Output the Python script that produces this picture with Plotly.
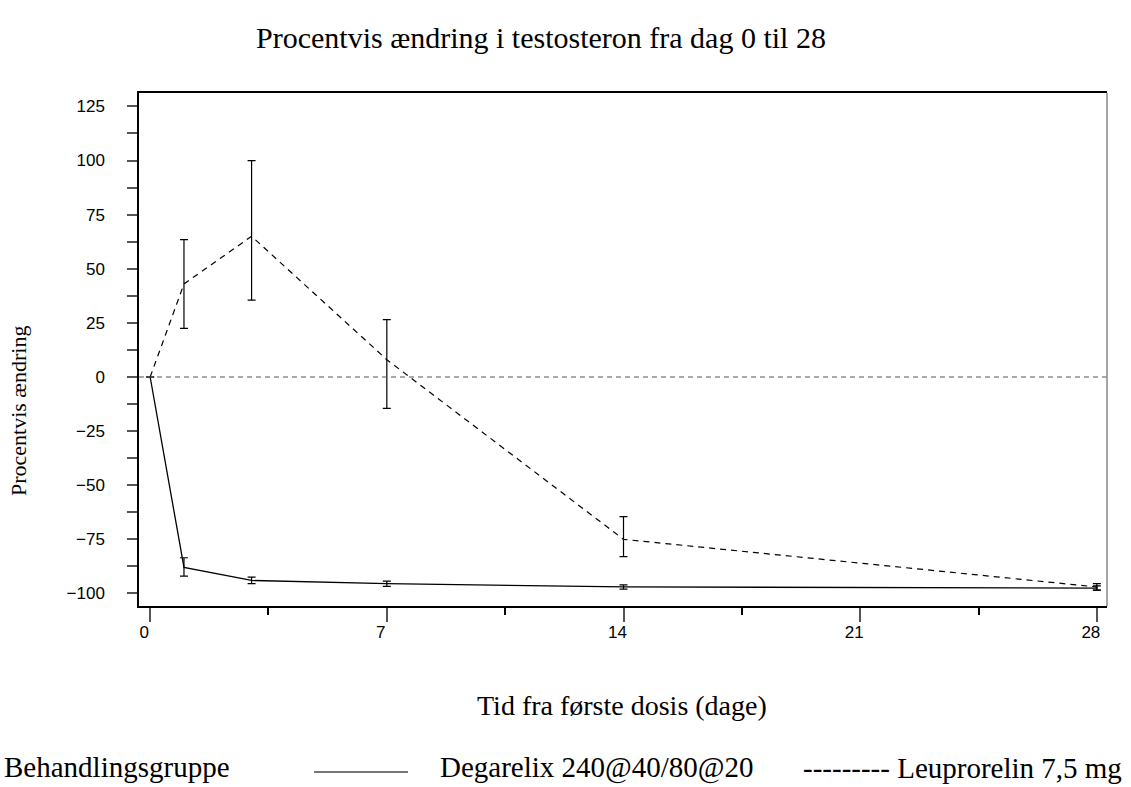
import plotly.graph_objects as go

# ---- data ----
days = [0, 1, 3, 7, 14, 28]

deg_name = "Degarelix 240@40/80@20"
deg_mean = [0, -88, -94, -95.5, -97, -97.5]
deg_upper = [0, -83.5, -92.5, -94.3, -96, -96.5]
deg_lower = [0, -92, -95.5, -96.7, -98, -98.5]

leu_name = "Leuprorelin 7,5 mg"
leu_mean = [0, 43, 65, 8, -75, -97]
leu_upper = [0, 63.5, 100, 26.5, -64.5, -95.5]
leu_lower = [0, 22.5, 35.5, -14.5, -83, -98.5]

x_ticks = [0, 7, 14, 21, 28]
y_ticks = [125, 100, 75, 50, 25, 0, -25, -50, -75, -100]

title_text = "Procentvis ændring i testosteron fra dag 0 til 28"
x_title = "Tid fra første dosis (dage)"
y_title = "Procentvis ændring"
legend_title = "Behandlingsgruppe"

SERIF = "Liberation Serif, Times New Roman, serif"
SANS = "Liberation Sans, Arial, sans-serif"


def err(mean, upper, lower):
    plus = [u - m for u, m in zip(upper, mean)]
    minus = [m - l for m, l in zip(mean, lower)]
    return plus, minus


fig = go.Figure()

dp, dm = err(deg_mean, deg_upper, deg_lower)
fig.add_trace(go.Scatter(
    x=days, y=deg_mean, mode="lines", name=deg_name,
    line=dict(color="black", width=1.3),
    error_y=dict(type="data", array=dp, arrayminus=dm, symmetric=False,
                 color="black", thickness=1.2, width=4),
))

lp, lm = err(leu_mean, leu_upper, leu_lower)
fig.add_trace(go.Scatter(
    x=days, y=leu_mean, mode="lines", name=leu_name,
    line=dict(color="black", width=1.2, dash="6px,5px"),
    error_y=dict(type="data", array=lp, arrayminus=lm, symmetric=False,
                 color="black", thickness=1.2, width=4),
))

# zero reference line
fig.add_hline(y=0, line=dict(color="#555555", width=1.2, dash="5px,4px"))

# right border (grey)
fig.add_shape(type="line", xref="paper", yref="paper", x0=1, x1=1, y0=0, y1=1,
              line=dict(color="#888888", width=1.5))

ann = []
ann.append(dict(text=title_text, x=0.4153, y=1.109, xref="paper", yref="paper",
                xanchor="center", yanchor="middle", showarrow=False,
                font=dict(family=SERIF, size=30, color="black")))
ann.append(dict(text=x_title, x=0.499, y=-0.193, xref="paper", yref="paper",
                xanchor="center", yanchor="middle", showarrow=False,
                font=dict(family=SERIF, size=28, color="black")))
ann.append(dict(text=y_title, x=-0.125, y=0.38, xref="paper", yref="paper",
                xanchor="center", yanchor="middle", showarrow=False, textangle=-90,
                font=dict(family=SERIF, size=22, color="black")))
# bottom legend
ann.append(dict(text=legend_title, x=-0.1415, y=-0.313, xref="paper", yref="paper",
                xanchor="left", yanchor="middle", showarrow=False,
                font=dict(family=SERIF, size=29, color="black")))
ann.append(dict(text=deg_name, x=0.3089, y=-0.315, xref="paper", yref="paper",
                xanchor="left", yanchor="middle", showarrow=False,
                font=dict(family=SERIF, size=29, color="black")))
ann.append(dict(text="--------- " + leu_name, x=0.684, y=-0.315, xref="paper", yref="paper",
                xanchor="left", yanchor="middle", showarrow=False,
                font=dict(family=SERIF, size=29, color="black")))
fig.add_shape(type="line", xref="paper", yref="paper", x0=0.1808, x1=0.2779,
              y0=-0.3235, y1=-0.3235, line=dict(color="#777777", width=2))

fig.update_layout(
    width=1131, height=787,
    margin=dict(l=139, r=24, t=93, b=181, autoexpand=False),
    paper_bgcolor="white", plot_bgcolor="white",
    showlegend=False,
    annotations=ann,
    font=dict(family=SANS, color="black"),
)

fig.update_xaxes(
    range=[-0.33, 28.3], tickvals=x_ticks, ticktext=[str(v) for v in x_ticks],
    showgrid=False, zeroline=False, showline=True, linecolor="black", linewidth=1.5,
    mirror=True, ticks="outside", ticklen=14, tickwidth=1.5, tickcolor="#555555",
    ticklabelstandoff=-4, ticklabelshift=-6,
    tickfont=dict(family=SANS, size=17, color="black"),
    minor=dict(dtick=3.5, tick0=0, ticks="outside", ticklen=7, tickwidth=1.5, tickcolor="black"),
)
fig.update_yaxes(
    range=[-105.8, 131.2], tickvals=y_ticks, ticktext=[str(v).replace("-", "\u2212") for v in y_ticks],
    showgrid=False, zeroline=False, showline=True, linecolor="black", linewidth=1.5,
    mirror=False, ticks="outside", ticklen=10, tickwidth=1.5, tickcolor="#555555",
    ticklabelstandoff=19,
    tickfont=dict(family=SANS, size=17, color="black"),
    minor=dict(dtick=12.5, tick0=0, ticks="outside", ticklen=10, tickwidth=1.5, tickcolor="#555555"),
)

fig.write_html("out.html", config={"displayModeBar": False},
               post_script="document.body.style.margin='0';document.body.style.overflow='hidden';")
